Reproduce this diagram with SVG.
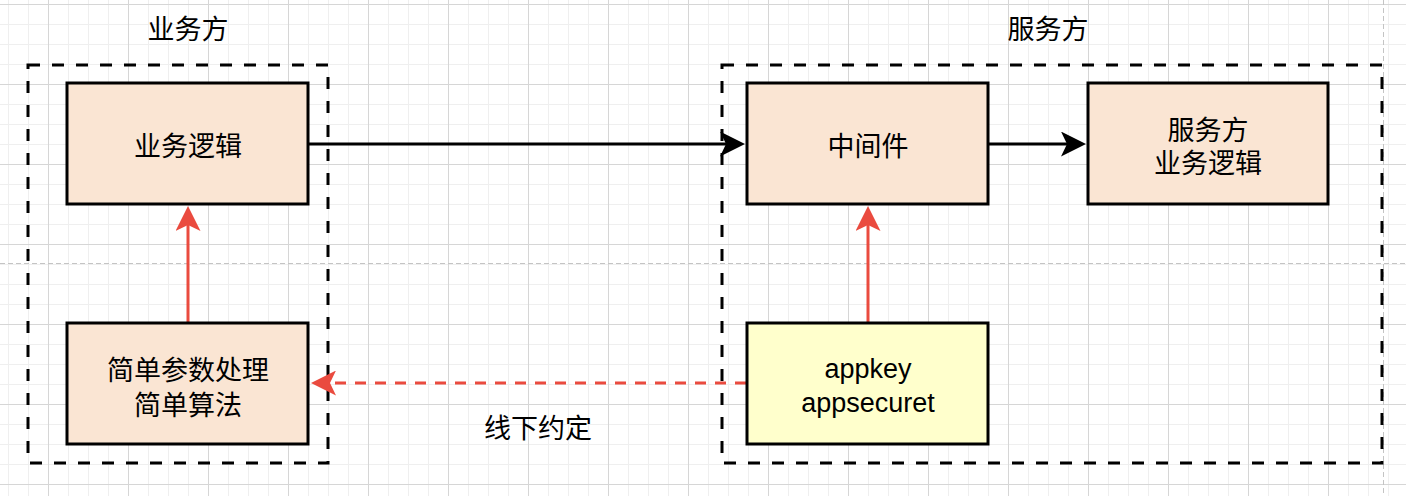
<svg xmlns="http://www.w3.org/2000/svg" width="1406" height="496" viewBox="0 0 1406 496">
  <defs>
    <pattern id="grid" patternUnits="userSpaceOnUse" x="48" y="4" width="80" height="80">
      <path d="M20.5,0V80M40.5,0V80M60.5,0V80M0,20.5H80M0,40.5H80M0,60.5H80" stroke="#efefef" stroke-width="1" fill="none"/>
      <path d="M0.5,0V80M0,0.5H80" stroke="#d6d6d6" stroke-width="1" fill="none"/>
    </pattern>
    <marker id="ahBlack" viewBox="0 0 25 25" refX="13" refY="12.5" markerWidth="25" markerHeight="25" markerUnits="userSpaceOnUse" orient="auto">
      <path d="M0,0 L25,12.5 L0,25 L6,12.5 Z" fill="#000"/>
    </marker>
    <marker id="ahRed" viewBox="0 0 25 25" refX="13" refY="12.5" markerWidth="25" markerHeight="25" markerUnits="userSpaceOnUse" orient="auto">
      <path d="M0,0 L25,12.5 L0,25 L6,12.5 Z" fill="#ea4b3f"/>
    </marker>
  </defs>
  <style>
    .cjk { font-family: "Noto Sans CJK SC", "Noto Sans", sans-serif; font-size: 27px; fill: #000; text-anchor: middle; dominant-baseline: central; }
    .lat { font-family: "Liberation Sans", Arial, sans-serif; font-size: 27px; fill: #000; text-anchor: middle; dominant-baseline: central; }
    .node { stroke: #000; stroke-width: 3; }
    .peach { fill: #fae5d3; }
    .yellow { fill: #ffffcc; }
    .container { fill: none; stroke: #000; stroke-width: 3; stroke-dasharray: 12 12; }
    .page { stroke: #c4c4c4; stroke-width: 1; stroke-dasharray: 5 3; fill: none; }
    .black { stroke: #000; stroke-width: 3; fill: none; }
    .red { stroke: #ea4b3f; stroke-width: 3; fill: none; }
  </style>

  <rect width="1406" height="496" fill="#ffffff"/>
  <rect width="1406" height="496" fill="url(#grid)"/>
  <path class="page" d="M0,263.5H1406M1383.5,0V496"/>

  <g id="container-left">
    <rect class="container" x="28" y="65" width="300" height="398"/>
    <text class="cjk" x="188" y="27">业务方</text>
  </g>
  <g id="container-right">
    <rect class="container" x="722" y="65" width="660" height="398"/>
    <text class="cjk" x="1048" y="27">服务方</text>
  </g>

  <g id="connectors">
    <line class="black" x1="309" y1="144" x2="733" y2="144" marker-end="url(#ahBlack)"/>
    <line class="black" x1="989" y1="144" x2="1074" y2="144" marker-end="url(#ahBlack)"/>
    <line class="red" x1="188" y1="322" x2="188" y2="218" marker-end="url(#ahRed)"/>
    <line class="red" x1="868" y1="322" x2="868" y2="218" marker-end="url(#ahRed)"/>
    <line class="red" x1="746" y1="383" x2="323" y2="383" stroke-dasharray="11 9" marker-end="url(#ahRed)"/>
    <text class="cjk" x="538" y="426">线下约定</text>
  </g>

  <g id="node-biz-logic">
    <rect class="node peach" x="67" y="83" width="241" height="121"/>
    <text class="cjk" x="188" y="144">业务逻辑</text>
  </g>
  <g id="node-params">
    <rect class="node peach" x="67" y="323" width="241" height="121"/>
    <text class="cjk" x="188" y="368">简单参数处理</text>
    <text class="cjk" x="188" y="403">简单算法</text>
  </g>
  <g id="node-middleware">
    <rect class="node peach" x="747" y="83" width="241" height="121"/>
    <text class="cjk" x="868" y="144">中间件</text>
  </g>
  <g id="node-service-logic">
    <rect class="node peach" x="1088" y="83" width="240" height="121"/>
    <text class="cjk" x="1208" y="128">服务方</text>
    <text class="cjk" x="1208" y="161">业务逻辑</text>
  </g>
  <g id="node-appkey">
    <rect class="node yellow" x="747" y="323" width="241" height="121"/>
    <text class="lat" x="868" y="369">appkey</text>
    <text class="lat" x="868" y="403">appsecuret</text>
  </g>
</svg>
